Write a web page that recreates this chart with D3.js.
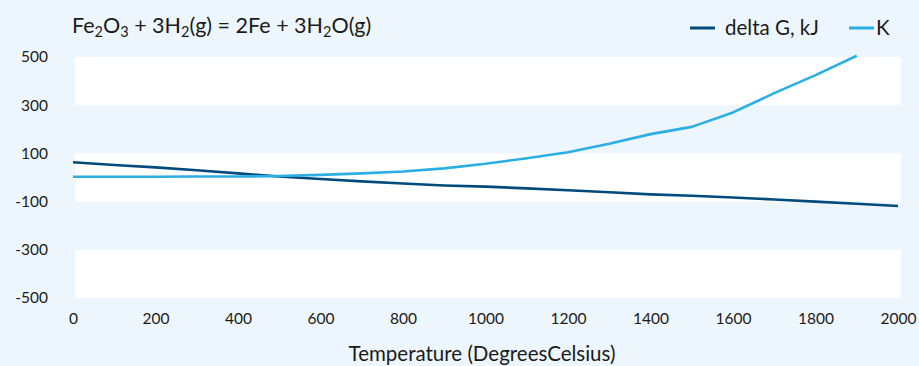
<!DOCTYPE html>
<html>
<head>
<meta charset="utf-8">
<script src="https://cdn.jsdelivr.net/npm/d3@7"></script>
<style>
  body { margin: 0; background: #eef6fd; }
  svg { display: block; font-family: Lato, "Open Sans", sans-serif; }
</style>
</head>
<body>
<div id="chart"></div>
<script>
const temps = [0, 100, 200, 300, 400, 500, 600, 700, 800, 900, 1000,
               1100, 1200, 1300, 1400, 1500, 1600, 1700, 1800, 1900, 2000];
const deltaG = [63, 52, 42, 30, 17, 4, -6, -16, -25, -33, -38,
                -45, -53, -61, -70, -76, -83, -91, -100, -109, -118];
const kValues = [3, 3, 3, 4, 4, 6, 11, 17, 25, 38, 57,
                 80, 105, 140, 180, 210, 270, 350, 425, 505];
const yTicks = [500, 300, 100, -100, -300, -500];
const xTicks = [0, 200, 400, 600, 800, 1000, 1200, 1400, 1600, 1800, 2000];
const seriesNames = ["delta G, kJ", "K"];
const seriesColors = ["#004a7c", "#2aaee4"];

const width = 919, height = 366;

const svg = d3.select("#chart").append("svg")
    .attr("width", width)
    .attr("height", height);

svg.append("rect")
    .attr("width", width).attr("height", height)
    .attr("fill", "#eef6fd");

const x = d3.scaleLinear().domain([0, 2000]).range([73, 898]);
const y = d3.scaleLinear().domain([-500, 500]).range([298, 57]);

// alternating bands between the y ticks
const bands = d3.pairs(yTicks).filter((p, i) => i % 2 === 0);
svg.append("g").selectAll("rect")
    .data(bands)
    .enter().append("rect")
    .attr("x", 75)
    .attr("width", 826)
    .attr("y", d => y(d[0]))
    .attr("height", d => y(d[1]) - y(d[0]))
    .attr("fill", "#ffffff");

const yAxis = svg.append("g")
    .attr("transform", "translate(48,0)")
    .call(d3.axisLeft(y).tickValues(yTicks).tickSize(0).tickPadding(0).tickFormat(d => String(d)));
yAxis.select(".domain").remove();
yAxis.selectAll("text")
    .attr("font-family", "Lato, sans-serif")
    .attr("font-size", 15.5)
    .attr("fill", "#1a1a1a");

const xAxis = svg.append("g")
    .attr("transform", "translate(0,313)")
    .call(d3.axisBottom(x).tickValues(xTicks).tickSize(0).tickPadding(0).tickFormat(d => String(d)));
xAxis.select(".domain").remove();
xAxis.selectAll("text")
    .attr("font-family", "Lato, sans-serif")
    .attr("font-size", 15.5)
    .attr("fill", "#1a1a1a");

svg.append("text")
    .attr("x", 482)
    .attr("y", 361)
    .attr("text-anchor", "middle")
    .attr("font-size", 20.5)
    .attr("fill", "#1a1a1a")
    .text("Temperature (DegreesCelsius)");

// lines
const line = d3.line()
    .x((d, i) => x(temps[i]))
    .y(d => y(d));

[deltaG, kValues].forEach((vals, i) => {
    svg.append("path")
        .datum(vals)
        .attr("fill", "none")
        .attr("stroke", seriesColors[i])
        .attr("stroke-width", 2.6)
        .attr("stroke-linejoin", "round")
        .attr("d", line);
});

// title with subscripts
const title = svg.append("text")
    .attr("x", 72)
    .attr("y", 33)
    .attr("font-size", 21.5)
    .attr("fill", "#1a1a1a");
const parts = [["Fe"], ["2", 1], ["O"], ["3", 1], [" + 3H"], ["2", 1], ["(g) = 2Fe + 3H"], ["2", 1], ["O(g)"]];
parts.forEach((p, i) => {
    const t = title.append("tspan").text(p[0]);
    if (p[1]) t.attr("font-size", 14.5).attr("dy", 4);
    else if (i > 0 && parts[i - 1][1]) t.attr("dy", -4);
});

// legend
const legendX = [690, 849];
const legend = svg.append("g");
seriesNames.forEach((name, i) => {
    legend.append("line")
        .attr("x1", legendX[i]).attr("x2", legendX[i] + 25)
        .attr("y1", 28).attr("y2", 28)
        .attr("stroke", seriesColors[i])
        .attr("stroke-width", 3);
    legend.append("text")
        .attr("x", legendX[i] + (i === 0 ? 35 : 27))
        .attr("y", 35)
        .attr("font-size", 20.5)
        .attr("fill", "#1a1a1a")
        .text(name);
});
</script>
</body>
</html>
